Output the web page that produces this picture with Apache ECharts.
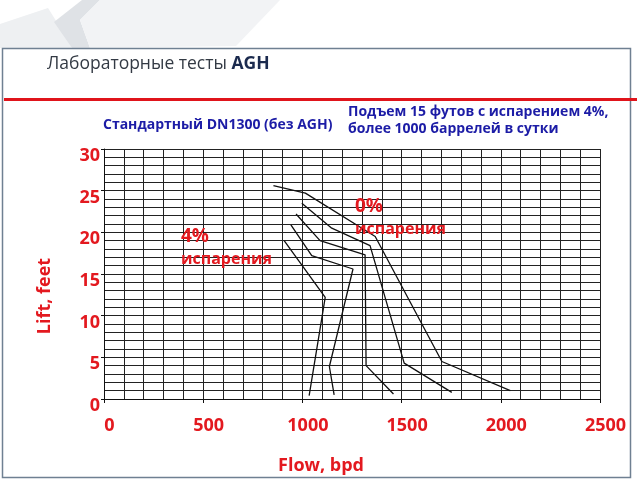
<!DOCTYPE html>
<html>
<head>
<meta charset="utf-8">
<script src="https://cdn.jsdelivr.net/npm/echarts@6/dist/echarts.min.js"></script>
<style>html,body{margin:0;padding:0;background:#fff;}#c{width:640px;height:480px;}</style>
</head>
<body>
<div id="c"></div>
<script>
// Data (Flow, bpd ; Lift, feet)
var curveA = [[854, 25.6], [1015, 24.7], [1367, 19.5], [1703, 4.5], [2048, 1.0]];
var curveB = [[997, 23.5], [1148, 20.5], [1341, 18.4], [1513, 4.3], [1753, 0.8]];
var curveC = [[968, 22.2], [1089, 19.0], [1316, 17.3], [1321, 4.0], [1459, 0.6]];
var curveD = [[942, 20.9], [1047, 17.2], [1255, 15.6], [1136, 3.9], [1160, 0.5]];
var curveE = [[908, 19.0], [1115, 12.2], [1034, 0.4]];
var xTicks = [0, 500, 1000, 1500, 2000, 2500];
var yTicks = [0, 5, 10, 15, 20, 25, 30];

var RED = '#e3191f';
var BLUE = '#1c1ca6';
var FONT = '"Open Sans", "DejaVu Sans", sans-serif';

var chart = echarts.init(document.getElementById('c'), null, {renderer: 'canvas'});

function lineSeries(d) {
  return {
    type: 'line', data: d, showSymbol: false, symbol: 'none', silent: true,
    lineStyle: {color: '#111', width: 1.3}, z: 5, animation: false
  };
}

chart.setOption({
  animation: false,
  backgroundColor: '#ffffff',
  grid: {left: 104, right: 40, top: 149, bottom: 81, containLabel: false},
  xAxis: {
    type: 'value', min: xTicks[0], max: xTicks[xTicks.length - 1], interval: 500,
    axisLine: {show: true, lineStyle: {color: '#111', width: 1}},
    axisTick: {show: true, length: 4, lineStyle: {color: '#111'}},
    axisLabel: {
      margin: 18,
      formatter: function (v) { return '{a|' + String(v) + '}'; },
      rich: {a: {color: RED, fontFamily: FONT, fontWeight: 'bold', fontSize: 18, padding: [0, 0, 0, 11]}}
    },
    splitLine: {show: true, lineStyle: {color: '#222', width: 1}},
    minorTick: {show: false, splitNumber: 5},
    minorSplitLine: {show: true, lineStyle: {color: '#222', width: 1}}
  },
  yAxis: {
    type: 'value', min: yTicks[0], max: yTicks[yTicks.length - 1], interval: 5,
    axisLine: {show: true, lineStyle: {color: '#111', width: 1}},
    axisTick: {show: true, length: 3, lineStyle: {color: '#111'}},
    axisLabel: {
      margin: 4,
      formatter: function (v) { return '{a|' + String(v) + '}'; },
      rich: {a: {color: RED, fontFamily: FONT, fontWeight: 'bold', fontSize: 18, padding: [14, 0, 0, 0]}}
    },
    splitLine: {show: true, lineStyle: {color: '#222', width: 1}},
    minorTick: {show: false, splitNumber: 5},
    minorSplitLine: {show: true, lineStyle: {color: '#222', width: 1}}
  },
  series: [lineSeries(curveA), lineSeries(curveB), lineSeries(curveC), lineSeries(curveD), lineSeries(curveE)],
  graphic: [
    // faint logo watermark
    {type: 'polygon', silent: true, z: -10, shape: {points: [[0, 24], [48, 8], [58, 24], [72, 48], [0, 48]]}, style: {fill: '#eef0f2'}},
    {type: 'polygon', silent: true, z: -10, shape: {points: [[54, 22], [82, 0], [100, 0], [80, 20], [90, 48], [72, 48]]}, style: {fill: '#dfe2e6'}},
    {type: 'polygon', silent: true, z: -10, shape: {points: [[100, 0], [280, 0], [236, 46], [90, 48], [80, 20]]}, style: {fill: '#f2f3f5'}},
    // frame
    {type: 'rect', silent: true, z: -5, shape: {x: 2.5, y: 48.5, width: 628, height: 429}, style: {fill: '#ffffff', stroke: '#6f8092', lineWidth: 1.5}},
    // red rule
    {type: 'rect', silent: true, shape: {x: 4, y: 98, width: 633, height: 3}, style: {fill: '#e0141b'}},
    // title
    {type: 'text', left: 47, top: 55, silent: true, style: {
      text: '{n|Лабораторные тесты }{b|AGH}',
      rich: {
        n: {fontFamily: FONT, fontSize: 17.5, fill: '#333a44', fontWeight: 'normal'},
        b: {fontFamily: FONT, fontSize: 17.5, fill: '#1b2a4e', fontWeight: 'bold'}
      }
    }},
    // blue annotations
    {type: 'text', left: 103, top: 118, silent: true, style: {text: 'Стандартный DN1300 (без AGH)', fontFamily: FONT, fontSize: 14, fontWeight: 'bold', fill: BLUE}},
    {type: 'text', left: 348, top: 104, silent: true, style: {text: 'Подъем 15 футов с испарением 4%,\nболее 1000 баррелей в сутки', fontFamily: FONT, fontSize: 14, fontWeight: 'bold', fill: BLUE, lineHeight: 17}},
    // red annotations
    {type: 'text', left: 181, top: 227, silent: true, z: 10, style: {text: '4%', fontFamily: FONT, fontSize: 19, fontWeight: 'bold', fill: RED}},
    {type: 'text', left: 181, top: 251, silent: true, z: 10, style: {text: 'испарения', fontFamily: FONT, fontSize: 16, fontWeight: 'bold', fill: RED}},
    {type: 'text', left: 355, top: 197, silent: true, z: 10, style: {text: '0%', fontFamily: FONT, fontSize: 19, fontWeight: 'bold', fill: RED}},
    {type: 'text', left: 355, top: 221, silent: true, z: 10, style: {text: 'испарения', fontFamily: FONT, fontSize: 16, fontWeight: 'bold', fill: RED}},
    // axis names
    {type: 'text', x: 45, y: 296, rotation: Math.PI / 2, silent: true, style: {text: 'Lift, feet', fontFamily: FONT, fontSize: 18, fontWeight: 'bold', fill: RED, align: 'center', verticalAlign: 'middle'}},
    {type: 'text', x: 321, y: 466, silent: true, style: {text: 'Flow, bpd', fontFamily: FONT, fontSize: 18, fontWeight: 'bold', fill: RED, align: 'center', verticalAlign: 'middle'}}
  ]
});
</script>
</body>
</html>
